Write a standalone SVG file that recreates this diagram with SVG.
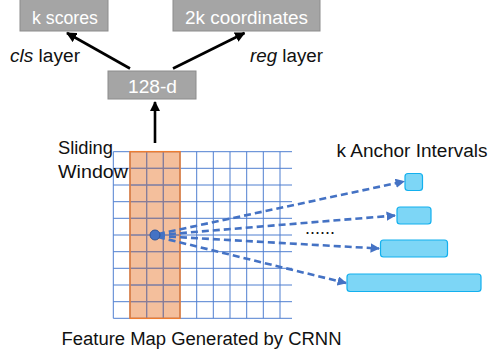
<svg xmlns="http://www.w3.org/2000/svg" width="500" height="358" viewBox="0 0 500 358">
<style>
text{font-family:"Liberation Sans",Arial,sans-serif;font-size:18px;fill:#111}
.box{fill:#A5A5A5;stroke:#8C8C8C;stroke-width:1}
.bt{fill:#fff;text-anchor:middle}
.anc{fill:#7DD6F6;stroke:#13B0EE;stroke-width:1.2}
.grid{stroke:#4F7FD0;stroke-width:1}
.dash{stroke:#4472C4;stroke-width:2.6;stroke-dasharray:7,4;fill:none}
.arr{stroke:#000;stroke-width:2.6;fill:none}
</style>
<defs>
<marker id="ab" viewBox="0 0 10 10" refX="9" refY="5" markerWidth="4" markerHeight="4" orient="auto"><path d="M0,0L10,5L0,10z" fill="#000"/></marker>
<marker id="ablue" viewBox="0 0 10 10" refX="9" refY="5" markerWidth="3.6" markerHeight="3.6" orient="auto"><path d="M0,0L10,5L0,10z" fill="#4472C4"/></marker>
</defs>
<g id="kscores"><rect class="box" x="20" y="-1" width="88" height="32"/><text class="bt" x="65" y="24" textLength="66" lengthAdjust="spacingAndGlyphs">k scores</text></g>
<g id="coords"><rect class="box" x="173" y="-1" width="147" height="32"/><text class="bt" x="246.5" y="24" textLength="123" lengthAdjust="spacingAndGlyphs">2k coordinates</text></g>
<g id="d128"><rect class="box" x="108" y="71" width="88" height="28"/><text class="bt" x="152.5" y="92.5" textLength="49" lengthAdjust="spacingAndGlyphs">128-d</text></g>
<text x="10" y="62" textLength="70" lengthAdjust="spacingAndGlyphs"><tspan font-style="italic">cls</tspan> layer</text>
<text x="250" y="62" textLength="73" lengthAdjust="spacingAndGlyphs"><tspan font-style="italic">reg</tspan> layer</text>
<g id="featuremap">
<rect x="130" y="151.7" width="50" height="166.6" fill="#F4BF9C"/>
<g class="grid">
<path d="M113.3,151.7V318.3M130,151.7V318.3M146.7,151.7V318.3M163.3,151.7V318.3M180,151.7V318.3M196.7,151.7V318.3M213.3,151.7V318.3M230,151.7V318.3M246.7,151.7V318.3M263.3,151.7V318.3M280,151.7V318.3"/>
<path d="M113.3,151.7H292M113.3,168.3H292M113.3,185H292M113.3,201.7H292M113.3,218.3H292M113.3,235H292M113.3,251.7H292M113.3,268.3H292M113.3,285H292M113.3,301.7H292M113.3,318.3H292"/>
</g>
<path d="M146.7,151.7V318.3M163.3,151.7V318.3M130,168.3H180M130,185H180M130,201.7H180M130,218.3H180M130,235H180M130,251.7H180M130,268.3H180M130,285H180M130,301.7H180" stroke="#8E7A8E" stroke-width="1"/>
<rect x="130" y="151.7" width="50" height="166.6" fill="none" stroke="#ED7D31" stroke-width="1.5"/>
</g>
<text x="58" y="154" textLength="55" lengthAdjust="spacingAndGlyphs">Sliding</text>
<text x="58" y="178" textLength="70" lengthAdjust="spacingAndGlyphs">Window</text>
<text x="336.5" y="157" textLength="151" lengthAdjust="spacingAndGlyphs">k Anchor Intervals</text>
<text x="61.5" y="345" textLength="280" lengthAdjust="spacingAndGlyphs">Feature Map Generated by CRNN</text>
<g id="anchors">
<rect class="anc" x="405" y="173.5" width="17.5" height="17" rx="3"/>
<rect class="anc" x="397" y="207" width="34" height="17" rx="3"/>
<rect class="anc" x="380.5" y="240" width="67" height="17" rx="3"/>
<rect class="anc" x="347" y="274" width="134" height="17.5" rx="3"/>
</g>
<text x="305" y="234" font-size="14">......</text>
<g id="connectors">
<line class="arr" x1="130" y1="68.5" x2="67" y2="33" marker-end="url(#ab)"/>
<line class="arr" x1="173" y1="68.5" x2="244.5" y2="33" marker-end="url(#ab)"/>
<line class="arr" x1="155" y1="143" x2="155" y2="102" marker-end="url(#ab)"/>
<line class="dash" x1="158" y1="234" x2="404" y2="181.5" marker-end="url(#ablue)"/>
<line class="dash" x1="158" y1="235" x2="395" y2="215.5" marker-end="url(#ablue)"/>
<line class="dash" x1="158" y1="236" x2="379" y2="248.5" marker-end="url(#ablue)"/>
<line class="dash" x1="158" y1="237" x2="346" y2="283" marker-end="url(#ablue)"/>
</g>
<circle cx="155" cy="235" r="5" fill="#4472C4" stroke="#2F5597" stroke-width="1"/>
</svg>
